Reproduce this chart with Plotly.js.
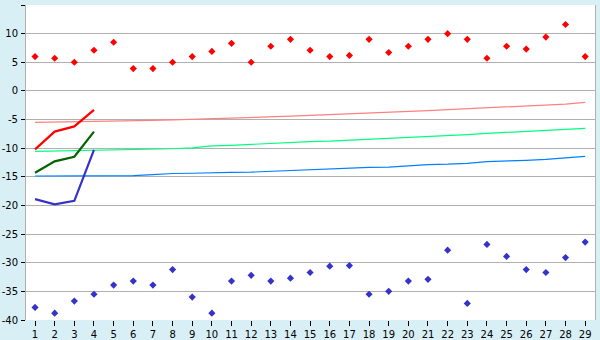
<!DOCTYPE html>
<html><head><meta charset="utf-8">
<script src="https://cdn.plot.ly/plotly-3.0.1.min.js"></script>
<style>html,body{margin:0;padding:0;background:#d9eff6;}</style>
</head><body>
<div id="chart" style="width:600px;height:340px;"></div>
<script>
const categories = [1,2,3,4,5,6,7,8,9,10,11,12,13,14,15,16,17,18,19,20,21,22,23,24,25,26,27,28,29];
const yTickValues = [-40,-35,-30,-25,-20,-15,-10,-5,0,5,10,15];
const yTickLabels = ['-40','-35','-30','-25','-20','-15','-10','-5','0','5','10','15'];
const redPoints = [6.0,5.7,5.0,7.1,8.5,3.9,3.9,5.0,6.0,6.9,8.3,5.0,7.8,9.0,7.1,6.0,6.2,9.0,6.7,7.8,9.0,10.0,9.0,5.7,7.8,7.3,9.4,11.6,6.0];
const bluePoints = [-37.8,-38.8,-36.7,-35.5,-33.9,-33.2,-33.9,-31.2,-36.0,-38.8,-33.2,-32.2,-33.2,-32.7,-31.7,-30.6,-30.5,-35.5,-35.0,-33.2,-32.9,-27.8,-37.1,-26.8,-28.9,-31.2,-31.7,-29.1,-26.4];
const lineCats = [1,2,3,4];
const redLine = [-10.2,-7.1,-6.2,-3.3];
const greenLine = [-14.3,-12.3,-11.5,-7.1];
const blueLine = [-18.9,-19.8,-19.2,-10.3];
const pinkTrend = [-5.49,-5.45,-5.38,-5.32,-5.27,-5.2,-5.14,-5.07,-4.98,-4.88,-4.77,-4.66,-4.54,-4.42,-4.26,-4.14,-4.0,-3.88,-3.75,-3.6,-3.44,-3.28,-3.12,-2.98,-2.8,-2.66,-2.5,-2.3,-2.0];
const greenTrend = [-10.55,-10.5,-10.4,-10.36,-10.32,-10.25,-10.18,-10.1,-9.95,-9.6,-9.5,-9.33,-9.18,-9.08,-8.85,-8.78,-8.63,-8.45,-8.28,-8.1,-7.93,-7.8,-7.65,-7.42,-7.23,-7.06,-6.88,-6.71,-6.53];
const blueTrend = [-14.86,-14.86,-14.85,-14.84,-14.82,-14.78,-14.6,-14.42,-14.38,-14.36,-14.22,-14.18,-14.04,-13.88,-13.72,-13.68,-13.52,-13.36,-13.3,-13.02,-12.86,-12.8,-12.65,-12.34,-12.28,-12.12,-11.95,-11.62,-11.42];

const traces = [
  {x: categories, y: pinkTrend, mode: 'lines', line: {color: '#ff8080', width: 1.2}},
  {x: categories, y: greenTrend, mode: 'lines', line: {color: '#00ff80', width: 1.2}},
  {x: categories, y: blueTrend, mode: 'lines', line: {color: '#0080ff', width: 1.2}},
  {x: lineCats, y: redLine, mode: 'lines', line: {color: '#ff0000', width: 2.2}},
  {x: lineCats, y: greenLine, mode: 'lines', line: {color: '#006400', width: 2.2}},
  {x: lineCats, y: blueLine, mode: 'lines', line: {color: '#3333cc', width: 2.2}},
  {x: categories, y: redPoints, mode: 'markers', marker: {symbol: 'diamond', size: 5.5, color: '#ff0000'}},
  {x: categories, y: bluePoints, mode: 'markers', marker: {symbol: 'diamond', size: 5.5, color: '#3333cc'}}
];

const layout = {
  width: 600, height: 340,
  margin: {l: 26, r: 5, t: 5, b: 20},
  paper_bgcolor: '#d9eff6',
  plot_bgcolor: '#ffffff',
  showlegend: false,
  hovermode: false,
  font: {family: 'DejaVu Sans', size: 10, color: '#000000'},
  xaxis: {
    range: [0.54, 29.5],
    tickvals: categories,
    ticktext: categories.map(String),
    showgrid: false,
    zeroline: false,
    ticks: 'outside', ticklen: 5, tickcolor: '#000000', tickwidth: 1,
    showline: false,
    tickfont: {family: 'DejaVu Sans', size: 10}
  },
  yaxis: {
    range: [-40, 15],
    tickvals: yTickValues,
    ticktext: yTickLabels,
    showgrid: true,
    gridcolor: '#b0b0b0',
    gridwidth: 1,
    zeroline: false,
    ticks: 'outside', ticklen: 4, tickcolor: '#000000', tickwidth: 1,
    showline: true, linecolor: '#b0b0b0', linewidth: 1, mirror: true,
    ticklabelstandoff: 1,
    tickfont: {family: 'DejaVu Sans', size: 10}
  }
};
Plotly.newPlot('chart', traces, layout, {displayModeBar: false, staticPlot: true});
</script>
</body></html>
